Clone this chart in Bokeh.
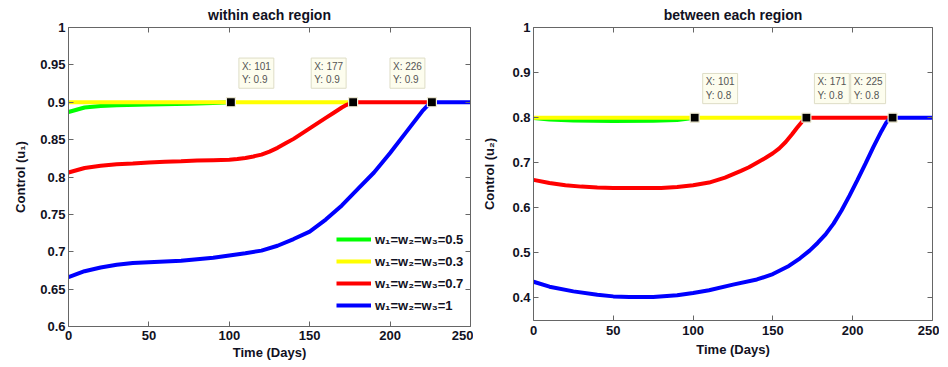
from bokeh.plotting import figure
from bokeh.layouts import row
from bokeh.models import LinearAxis, Label, Legend, LegendItem, FixedTicker, Range1d
from bokeh.embed import file_html
from bokeh.resources import INLINE

# ---- data: left panel (u1) ----
u1_green_x = [0, 5, 10, 20, 30, 50, 75, 90, 101]
u1_green_y = [0.887, 0.890, 0.893, 0.895, 0.896, 0.897, 0.898, 0.899, 0.9]
u1_yellow_x = [0, 177]
u1_yellow_y = [0.9, 0.9]
u1_red_x = [0, 5, 10, 20, 30, 40, 50, 60, 70, 80, 90, 100, 105, 110, 115, 120, 125, 130, 135,
            140, 150, 160, 165, 170, 173, 177, 226]
u1_red_y = [0.806, 0.809, 0.812, 0.815, 0.817, 0.818, 0.8195, 0.8205, 0.821, 0.822, 0.8225, 0.823,
            0.824, 0.8255, 0.8275, 0.830, 0.834, 0.839, 0.845, 0.851, 0.865, 0.879, 0.886, 0.893,
            0.8965, 0.9, 0.9]
u1_blue_x = [0, 5, 10, 20, 30, 40, 50, 60, 70, 80, 90, 100, 110, 120, 130, 140, 150, 160, 170,
             180, 190, 200, 210, 220, 224, 226, 250]
u1_blue_y = [0.666, 0.670, 0.674, 0.679, 0.6825, 0.685, 0.686, 0.687, 0.688, 0.690, 0.692, 0.695,
             0.698, 0.7015, 0.708, 0.717, 0.727, 0.743, 0.762, 0.784, 0.806, 0.832, 0.860, 0.888,
             0.897, 0.9, 0.9]

# ---- data: right panel (u2) ----
u2_green_x = [0, 10, 25, 50, 75, 90, 101]
u2_green_y = [0.799, 0.796, 0.7937, 0.7925, 0.793, 0.795, 0.8]
u2_yellow_x = [0, 171]
u2_yellow_y = [0.8, 0.8]
u2_red_x = [0, 10, 20, 30, 40, 50, 66, 80, 90, 100, 110, 120, 130, 135, 140, 145, 150, 154, 158,
            162, 165, 168, 171, 225]
u2_red_y = [0.662, 0.655, 0.650, 0.647, 0.645, 0.644, 0.644, 0.644, 0.646, 0.650, 0.656, 0.667,
            0.682, 0.690, 0.700, 0.710, 0.721, 0.732, 0.746, 0.763, 0.777, 0.790, 0.8, 0.8]
u2_blue_x = [0, 10, 25, 40, 50, 60, 75, 90, 100, 110, 125, 140, 150, 160, 167, 173, 178, 183, 188,
             193, 198, 203, 208, 213, 218, 221, 224, 250]
u2_blue_y = [0.436, 0.425, 0.4146, 0.407, 0.4035, 0.402, 0.402, 0.406, 0.411, 0.417, 0.4295,
             0.441, 0.453, 0.471, 0.488, 0.505, 0.522, 0.541, 0.565, 0.594, 0.627, 0.662,
             0.698, 0.735, 0.770, 0.789, 0.8, 0.8]

legend_labels = ["w\u2081=w\u2082=w\u2083=0.5", "w\u2081=w\u2082=w\u2083=0.3",
                 "w\u2081=w\u2082=w\u2083=0.7", "w\u2081=w\u2082=w\u2083=1"]
colors = ["#00ff00", "#ffff00", "#ff0000", "#0000ff"]

u1_tips_x = [101, 177, 226]
u1_tips_y = [0.9, 0.9, 0.9]
u1_tips_side = ["right", "left", "left"]
u2_tips_x = [101, 171, 225]
u2_tips_y = [0.8, 0.8, 0.8]
u2_tips_side = ["right", "right", "left"]

x_ticks = [0, 50, 100, 150, 200, 250]
u1_ticks = [0.6, 0.65, 0.7, 0.75, 0.8, 0.85, 0.9, 0.95, 1.0]
u2_ticks = [0.4, 0.5, 0.6, 0.7, 0.8, 0.9, 1.0]

FONT = "Liberation Sans"
AXIS_COLOR = "#666666"
TXT = "#111122"


def style(p, yticks, xstand, xlabstand, ylabstand):
    p.xaxis.ticker = FixedTicker(ticks=x_ticks)
    p.yaxis.ticker = FixedTicker(ticks=yticks)
    p.yaxis.major_label_overrides = {t: ("%g" % t) for t in yticks}
    for ax in p.axis:
        ax.axis_line_color = AXIS_COLOR
        ax.major_tick_line_color = AXIS_COLOR
        ax.major_tick_in = 5
        ax.major_tick_out = 0
        ax.minor_tick_line_color = None
        ax.major_label_text_font = FONT
        ax.major_label_text_font_style = "bold"
        ax.major_label_text_font_size = "13px"
        ax.major_label_text_color = TXT
        ax.axis_label_text_font = FONT
        ax.axis_label_text_font_style = "bold"
        ax.axis_label_text_font_size = "13px"
        ax.axis_label_text_color = TXT
    p.xaxis.major_label_standoff = xstand
    p.xaxis.axis_label_standoff = xlabstand
    p.yaxis.major_label_standoff = 3
    p.yaxis.axis_label_standoff = ylabstand
    top = LinearAxis(ticker=FixedTicker(ticks=x_ticks), major_label_text_alpha=0,
                     major_label_text_font_size="1px", major_tick_in=5, major_tick_out=0,
                     minor_tick_line_color=None, axis_line_color=AXIS_COLOR,
                     major_tick_line_color=AXIS_COLOR, major_label_standoff=0)
    right = LinearAxis(ticker=FixedTicker(ticks=yticks), major_label_text_alpha=0,
                       major_label_text_font_size="1px", major_tick_in=5, major_tick_out=0,
                       minor_tick_line_color=None, axis_line_color=AXIS_COLOR,
                       major_tick_line_color=AXIS_COLOR, major_label_standoff=0)
    p.add_layout(top, "above")
    p.add_layout(right, "right")
    p.grid.visible = False
    p.outline_line_color = None
    p.title.text_font = FONT
    p.title.text_font_style = "bold"
    p.title.text_font_size = "14px"
    p.title.align = "center"
    p.title.text_color = TXT
    p.title.offset = 0
    p.title.standoff = 9


def tips(p, xs, ys, sides):
    for x, y, side in zip(xs, ys, sides):
        if side == "right":
            xo, anc = 8, "bottom_left"
        else:
            xo, anc = -7, "bottom_right"
        lab = Label(x=x, y=y, x_offset=xo, y_offset=14, text="X: %d\nY: %g" % (x, y),
                    text_font=FONT, text_font_size="10px", text_color="#555555",
                    text_align="left", anchor=anc,
                    background_fill_color="#fdfdee", border_line_color="#deddc6",
                    border_line_width=1, padding=3, text_line_height=1.2)
        p.add_layout(lab)
    p.scatter(xs, ys, marker="square", size=9, fill_color="black",
              line_color="#f3efd6", line_width=1.2)


# ---- left figure ----
p1 = figure(frame_width=402, frame_height=299, output_backend="svg", toolbar_location=None,
            x_range=Range1d(0, 250), y_range=Range1d(0.6, 1.0),
            title="within each region", min_border_left=68, min_border_right=3,
            min_border_top=26, min_border_bottom=0)
p1.xaxis.axis_label = "Time (Days)"
p1.yaxis.axis_label = "Control (u\u2081)"
style(p1, u1_ticks, 4, 2, 9)
r_g = p1.line(u1_green_x, u1_green_y, color=colors[0], line_width=4)
r_y = p1.line(u1_yellow_x, u1_yellow_y, color=colors[1], line_width=4)
r_r = p1.line(u1_red_x, u1_red_y, color=colors[2], line_width=4)
r_b = p1.line(u1_blue_x, u1_blue_y, color=colors[3], line_width=4)
tips(p1, u1_tips_x, u1_tips_y, u1_tips_side)
legend = Legend(items=[LegendItem(label=legend_labels[0], renderers=[r_g]),
                       LegendItem(label=legend_labels[1], renderers=[r_y]),
                       LegendItem(label=legend_labels[2], renderers=[r_r]),
                       LegendItem(label=legend_labels[3], renderers=[r_b])],
                location=(268, 12), border_line_color=None,
                background_fill_alpha=0, label_text_font=FONT,
                label_text_font_style="bold", label_text_font_size="13px",
                label_text_color=TXT, glyph_width=35, glyph_height=18, label_height=18,
                spacing=4, padding=0, margin=0, label_standoff=4)
p1.add_layout(legend)

# ---- right figure ----
p2 = figure(frame_width=399, frame_height=293, output_backend="svg", toolbar_location=None,
            x_range=Range1d(0, 250), y_range=Range1d(0.35, 1.0),
            title="between each region", min_border_left=60, min_border_right=7,
            min_border_top=27, min_border_bottom=0)
p2.xaxis.axis_label = "Time (Days)"
p2.yaxis.axis_label = "Control (u\u2082)"
style(p2, u2_ticks, 5, 4, 12)
p2.line(u2_green_x, u2_green_y, color=colors[0], line_width=4)
p2.line(u2_yellow_x, u2_yellow_y, color=colors[1], line_width=4)
p2.line(u2_red_x, u2_red_y, color=colors[2], line_width=4)
p2.line(u2_blue_x, u2_blue_y, color=colors[3], line_width=4)
tips(p2, u2_tips_x, u2_tips_y, u2_tips_side)

layout = row(p1, p2, spacing=0)
open("out.html", "w").write(file_html(layout, INLINE))
